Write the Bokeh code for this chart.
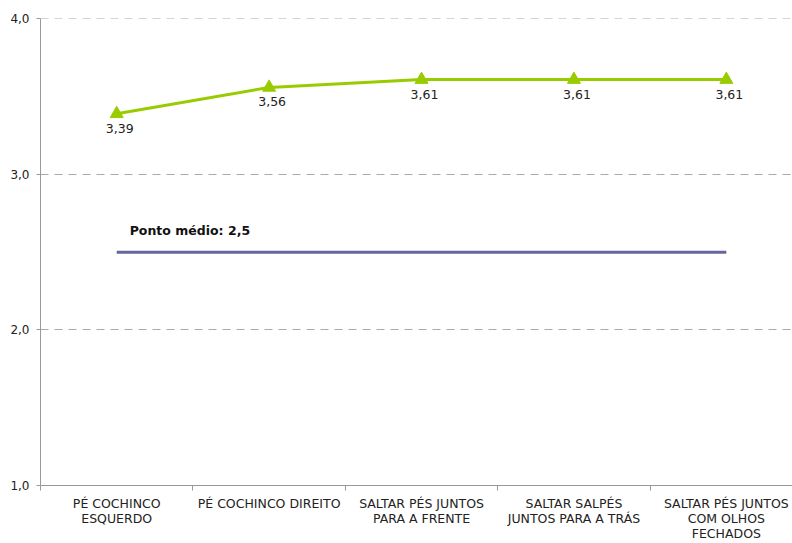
from bokeh.plotting import figure
from bokeh.models import Range1d, FixedTicker, Label, ColumnDataSource
from bokeh.embed import file_html
from bokeh.resources import INLINE
from bokeh.core.properties import value

categories = ["PÉ COCHINCO\nESQUERDO", "PÉ COCHINCO DIREITO", "SALTAR PÉS JUNTOS\nPARA A FRENTE",
              "SALTAR SALPÉS\nJUNTOS PARA A TRÁS", "SALTAR PÉS JUNTOS\nCOM OLHOS\nFECHADOS"]
scores = [3.39, 3.56, 3.61, 3.61, 3.61]
score_labels = ["3,39", "3,56", "3,61", "3,61", "3,61"]
midpoint = 2.5
midpoint_label = "Ponto médio: 2,5"
y_ticks = [1.0, 2.0, 3.0, 4.0]
y_tick_labels = ["1,0", "2,0", "3,0", "4,0"]

FONT = "DejaVu Sans"
xs = [i + 0.5 for i in range(len(categories))]

p = figure(width=792, height=543, output_backend="svg", toolbar_location=None,
           x_range=Range1d(0, 4.934), y_range=Range1d(1.0, 4.003))
p.min_border_left = 40
p.min_border_right = 0
p.min_border_top = 18
p.min_border_bottom = 56
p.outline_line_color = None
p.background_fill_color = "white"

# axes
p.xaxis.ticker = FixedTicker(ticks=xs, minor_ticks=list(range(len(categories) + 1)))
p.xaxis.major_label_overrides = {x: c for x, c in zip(xs, categories)}
p.xaxis.major_tick_out = 0
p.xaxis.major_tick_in = 0
p.xaxis.minor_tick_out = 5
p.xaxis.minor_tick_in = 0
p.xaxis.minor_tick_line_color = "#999999"
p.xaxis.axis_line_color = "#999999"
p.xaxis.major_label_text_font = FONT
p.xaxis.major_label_text_font_size = "12.5px"
p.xaxis.major_label_text_color = "#222222"
p.xaxis.major_label_text_line_height = 1.0
p.xaxis.major_label_standoff = 5

p.yaxis.ticker = FixedTicker(ticks=y_ticks, minor_ticks=[])
p.yaxis.major_label_overrides = {t: l for t, l in zip(y_ticks, y_tick_labels)}
p.yaxis.axis_line_color = "#999999"
p.yaxis.major_tick_line_color = "#999999"
p.yaxis.major_tick_out = 4
p.yaxis.major_tick_in = 0
p.yaxis.major_label_text_font = FONT
p.yaxis.major_label_text_font_size = "12px"
p.yaxis.major_label_text_color = "#222222"
p.yaxis.major_label_standoff = 7

p.xgrid.grid_line_color = None
p.ygrid.grid_line_color = "#aaaaaa"
p.ygrid.grid_line_dash = "8 6"
p.ygrid.ticker = FixedTicker(ticks=[2.0, 3.0, 4.0])

# midpoint line
p.line([xs[0], xs[-1]], [midpoint, midpoint], line_color="#6666a0", line_width=3)
p.add_layout(Label(x=xs[0], y=midpoint, x_offset=13, y_offset=14, text=midpoint_label,
                   text_font=FONT, text_font_size="12.5px", text_font_style="bold",
                   text_color="#111111", text_baseline="bottom"))

# scores
src = ColumnDataSource(dict(x=xs, y=scores, lab=score_labels))
p.line("x", "y", source=src, line_color="#99cc00", line_width=3)
p.scatter("x", "y", source=src, marker="triangle", size=13, fill_color="#99cc00",
          line_color="#99cc00")
p.text("x", "y", text="lab", source=src, text_font=value(FONT), text_font_size="12.5px",
       text_color="#222222", text_align="center", text_baseline="top",
       x_offset=3, y_offset=10)

open("out.html", "w").write(file_html(p, INLINE))
